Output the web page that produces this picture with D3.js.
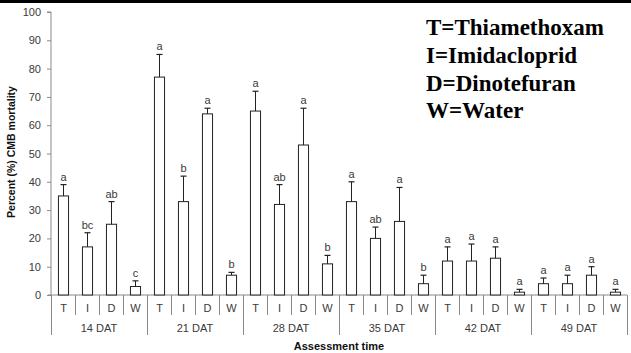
<!DOCTYPE html>
<html><head><meta charset="utf-8">
<script src="https://cdn.jsdelivr.net/npm/d3@7"></script>
<style>body{margin:0;background:#fff}svg{display:block}</style>
</head><body>
<script>
const groups = ["14 DAT","21 DAT","28 DAT","35 DAT","42 DAT","49 DAT"];
const treatments = ["T","I","D","W"];
const means = [
  [35,17,25,3],
  [77,33,64,7],
  [65,32,53,11],
  [33,20,26,4],
  [12,12,13,1],
  [4,4,7,1]
];
const errors = [
  [4,5,8,2],
  [8,9,2,1],
  [7,7,13,3],
  [7,4,12,3],
  [5,6,4,1],
  [2,3,3,1]
];
const letters = [
  ["a","bc","ab","c"],
  ["a","b","a","b"],
  ["a","ab","a","b"],
  ["a","ab","a","b"],
  ["a","a","a","a"],
  ["a","a","a","a"]
];
const yTicks = [0,10,20,30,40,50,60,70,80,90,100];
const legendLines = ["T=Thiamethoxam","I=Imidacloprid","D=Dinotefuran","W=Water"];

(function(){
const W = 631, H = 353;
const svg = d3.select("body").append("svg").attr("width",W).attr("height",H);
svg.append("rect").attr("x",0).attr("y",0).attr("width",W).attr("height",3).attr("fill","#000");

const mLeft = 51, mRight = 627, mTop = 12, mBottom = 295;
const y = d3.scaleLinear().domain([0,100]).range([mBottom, mTop]);
const xg = d3.scaleBand().domain(groups).range([mLeft, mRight]);
const xt = d3.scaleBand().domain(treatments).range([0, xg.bandwidth()]).paddingInner(0.58).paddingOuter(0.29);

const axisColor = "#8a8a8a";
const textColor = "#3a3a3a";
const sans = "Arial, 'Liberation Sans', sans-serif";

const yAxis = d3.axisLeft(y).tickValues(yTicks).tickSize(4).tickPadding(6);
const ga = svg.append("g").attr("transform",`translate(${mLeft},0)`).call(yAxis);
ga.select(".domain").attr("stroke",axisColor).attr("d",`M-4,${mTop}H0V${mBottom}`);
ga.selectAll(".tick line").attr("stroke",axisColor);
ga.selectAll(".tick text").attr("fill",textColor).style("font-family",sans).style("font-size","11px");

svg.append("line").attr("x1",mLeft-3).attr("x2",mRight).attr("y1",mBottom).attr("y2",mBottom).attr("stroke",axisColor);

const data = [];
groups.forEach((g,i)=>treatments.forEach((t,j)=>data.push({g,t,m:means[i][j],e:errors[i][j],l:letters[i][j]})));

const gb = svg.append("g");
data.forEach(d=>{
  const x0 = xg(d.g) + xt(d.t);
  const bw = xt.bandwidth();
  const cx = x0 + bw/2;
  gb.append("rect").attr("x",x0+0.5).attr("y",y(d.m)).attr("width",bw).attr("height",mBottom - y(d.m))
    .attr("fill","#fff").attr("stroke","#222").attr("stroke-width",1);
  gb.append("line").attr("x1",cx+0.5).attr("x2",cx+0.5).attr("y1",y(d.m)).attr("y2",y(d.m+d.e)).attr("stroke","#222");
  gb.append("line").attr("x1",cx-2.5).attr("x2",cx+3.5).attr("y1",y(d.m+d.e)).attr("y2",y(d.m+d.e)).attr("stroke","#222").attr("stroke-width",1.2);
  gb.append("text").attr("x",cx+0.5).attr("y",y(d.m+d.e)-4).attr("text-anchor","middle")
    .attr("fill",textColor).style("font-family",sans).style("font-size","11px").text(d.l);
});

const slot = xg.bandwidth()/treatments.length;
groups.forEach((g,i)=>{
  const gx = xg(g);
  svg.append("line").attr("x1",gx+0.5).attr("x2",gx+0.5).attr("y1",mBottom).attr("y2",335).attr("stroke",axisColor);
  treatments.forEach((t,j)=>{
    if (j>0) svg.append("line").attr("x1",gx+j*slot+0.5).attr("x2",gx+j*slot+0.5).attr("y1",mBottom).attr("y2",315).attr("stroke",axisColor);
    svg.append("text").attr("x",gx+xt(t)+xt.bandwidth()/2+0.5).attr("y",312).attr("text-anchor","middle")
      .attr("fill",textColor).style("font-family",sans).style("font-size","11px").text(t);
  });
  svg.append("text").attr("x",gx+xg.bandwidth()/2).attr("y",332).attr("text-anchor","middle")
    .attr("fill",textColor).style("font-family",sans).style("font-size","11px").text(g);
});
svg.append("line").attr("x1",mRight+0.5).attr("x2",mRight+0.5).attr("y1",mBottom).attr("y2",335).attr("stroke",axisColor);

svg.append("text").attr("x",(mLeft+mRight)/2).attr("y",350).attr("text-anchor","middle")
  .attr("fill","#111").style("font-family",sans).style("font-size","11px").style("font-weight","bold").text("Assessment time");
svg.append("text").attr("transform",`translate(15,152) rotate(-90)`).attr("text-anchor","middle")
  .attr("fill","#111").style("font-family",sans).style("font-size","10.5px").style("font-weight","bold").text("Percent (%) CMB mortality");

legendLines.forEach((s,i)=>{
  svg.append("text").attr("x",426).attr("y",35+i*27.8).attr("fill","#000")
    .style("font-family","'Liberation Serif','Times New Roman',serif").style("font-size","23px").style("font-weight","bold").text(s);
});
})();
</script>
</body></html>
